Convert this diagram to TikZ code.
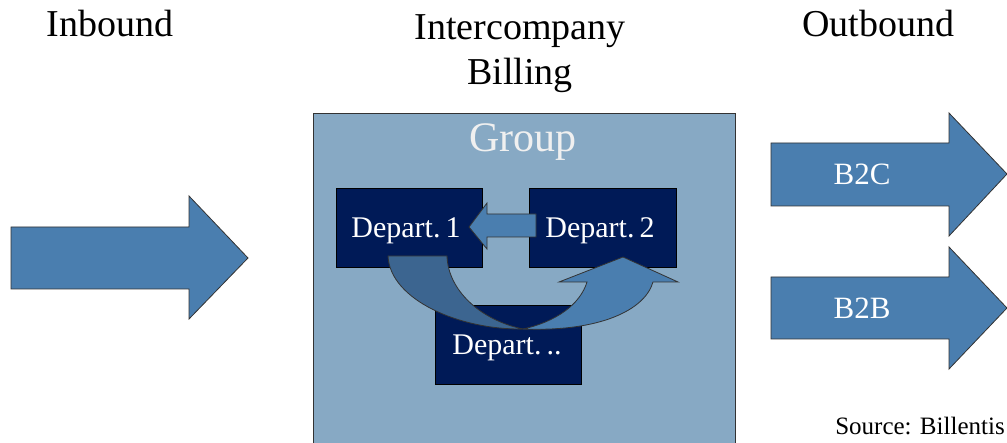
\documentclass[tikz,border=0pt]{standalone}
\usepackage{fontspec}
\setmainfont{Liberation Serif}
\definecolor{arrowblue}{HTML}{4A7EAF}
\definecolor{darkarrow}{HTML}{3C6590}
\definecolor{groupfill}{HTML}{87A9C4}
\definecolor{navy}{HTML}{001A57}
\definecolor{edgegray}{HTML}{333333}
\tikzset{
  blockarrow/.style={fill=arrowblue, draw=edgegray, line width=0.8pt, line join=miter},
  curvearrow/.style={draw=edgegray, line width=0.8pt},
  deptbox/.style={fill=navy, draw=black, line width=0.8pt},
  header/.style={anchor=base, font=\fontsize{38}{45}\selectfont, inner sep=0pt},
  whitelabel/.style={anchor=base, text=white, inner sep=0pt},
}
\begin{document}
\begin{tikzpicture}[x=1pt,y=-1pt]
\useasboundingbox (0,0) rectangle (1007,443);
% headers
\node[header] (inb) at (110,37) {Inbound};
\node[header] (ic) at (520,40) {Intercompany};
\node[header] (bil) at (520,85) {Billing};
\node[header] (outb) at (878,37) {Outbound};
% inbound arrow
\draw[blockarrow] (11,227) -- (189,227) -- (189,196) -- (248,258) -- (189,319) -- (189,289) -- (11,289) -- cycle;
% group box
\fill[groupfill] (313,113) rectangle (735,443);
\draw[edgegray, line width=0.8pt] (313,443) -- (313,113) -- (735,113) -- (735,443);
\node[whitelabel, text=white!94!black, font=\fontsize{42}{48}\selectfont] (grp) at (523,152) {Group};
% department boxes
\draw[deptbox] (336,188) rectangle (482,267);
\draw[deptbox] (529,188) rectangle (676,267);
\draw[deptbox] (435,305) rectangle (581,384);
% small arrow dep2 -> dep1
\draw[blockarrow] (536,214) -- (487,214) -- (487,203) -- (469,227) -- (487,249) -- (487,237) -- (536,237) -- cycle;
\node[whitelabel, font=\fontsize{30}{36}\selectfont] (d1) at (406,238) {Depart.\,1};
\node[whitelabel, font=\fontsize{30}{36}\selectfont] (d2) at (600,238) {Depart.\,2};
% curved arrows
\draw[curvearrow, fill=darkarrow] (388,256) .. controls (390,300) and (460,330) .. (523,329)
  .. controls (480,320) and (448,290) .. (447,256) -- cycle;
\draw[curvearrow, fill=arrowblue] (523,329) .. controls (600,332) and (645,310) .. (653,282)
  -- (678,282) -- (623,257) -- (559,282) -- (587,282)
  .. controls (580,305) and (555,322) .. (523,329) -- cycle;
\node[whitelabel, font=\fontsize{30}{36}\selectfont] (d3) at (507,355) {Depart.\,..};
% outbound arrows
\draw[blockarrow] (771,143) -- (949,143) -- (949,113) -- (1007,174) -- (949,236) -- (949,206) -- (771,206) -- cycle;
\node[whitelabel, font=\fontsize{31}{36}\selectfont] (b2c) at (862,185) {B2C};
\draw[blockarrow] (771,277) -- (949,277) -- (949,247) -- (1007,308) -- (949,369) -- (949,339) -- (771,339) -- cycle;
\node[whitelabel, font=\fontsize{31}{36}\selectfont] (b2b) at (862,319) {B2B};
% source
\node[anchor=base, inner sep=0pt, font=\fontsize{25}{30}\selectfont] (src) at (920,435) {Source: Billentis};
\end{tikzpicture}
\end{document}
